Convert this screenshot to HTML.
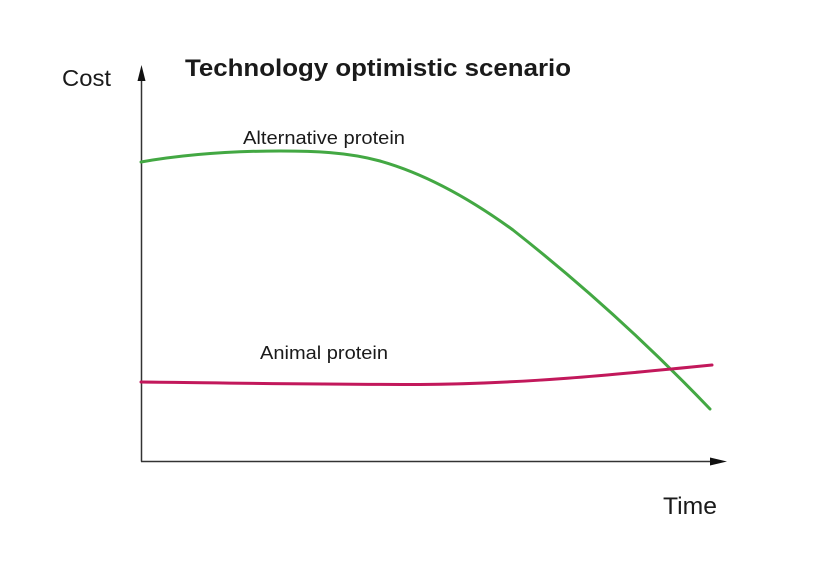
<!DOCTYPE html>
<html>
<head>
<meta charset="utf-8">
<style>
  html, body { margin: 0; padding: 0; background: #ffffff; }
  body { width: 830px; height: 586px; overflow: hidden; }
  svg { display: block; }
  text { font-family: "Liberation Sans", "DejaVu Sans", sans-serif; fill: #1a1a1a; }
</style>
</head>
<body>
<svg width="830" height="586" viewBox="0 0 830 586" xmlns="http://www.w3.org/2000/svg">
  <rect x="0" y="0" width="830" height="586" fill="#ffffff"/>

  <!-- Axes -->
  <line x1="141.5" y1="78" x2="141.5" y2="461.5" stroke="#333333" stroke-width="1.5"/>
  <polygon points="141.5,65 137.5,81 145.5,81" fill="#111111"/>
  <line x1="141" y1="461.5" x2="712" y2="461.5" stroke="#333333" stroke-width="1.5"/>
  <polygon points="727,461.5 710,457.5 710,465.5" fill="#111111"/>

  <!-- Green: Alternative protein -->
  <path fill="none" stroke="#43a843" stroke-width="3" stroke-linecap="round"
    d="M141,162 C187,154 233,151 280,151 C313,151 347,152 380,161 C424,173.4 469,198 513,230 C579,282 644,340 710,409"/>

  <!-- Magenta: Animal protein -->
  <path fill="none" stroke="#c2185b" stroke-width="3" stroke-linecap="round"
    d="M141,382 C230,383 320,384.5 420,384.5 C520,384 615,374.7 712,365"/>

  <!-- Labels -->
  <text x="62" y="86" font-size="23" textLength="49" lengthAdjust="spacingAndGlyphs">Cost</text>
  <text x="185" y="76" font-size="24" font-weight="bold" textLength="386" lengthAdjust="spacingAndGlyphs">Technology optimistic scenario</text>
  <text x="243" y="144" font-size="18" textLength="162" lengthAdjust="spacingAndGlyphs">Alternative protein</text>
  <text x="260" y="359" font-size="18" textLength="128" lengthAdjust="spacingAndGlyphs">Animal protein</text>
  <text x="663" y="514" font-size="24" textLength="54" lengthAdjust="spacingAndGlyphs">Time</text>
</svg>
</body>
</html>
